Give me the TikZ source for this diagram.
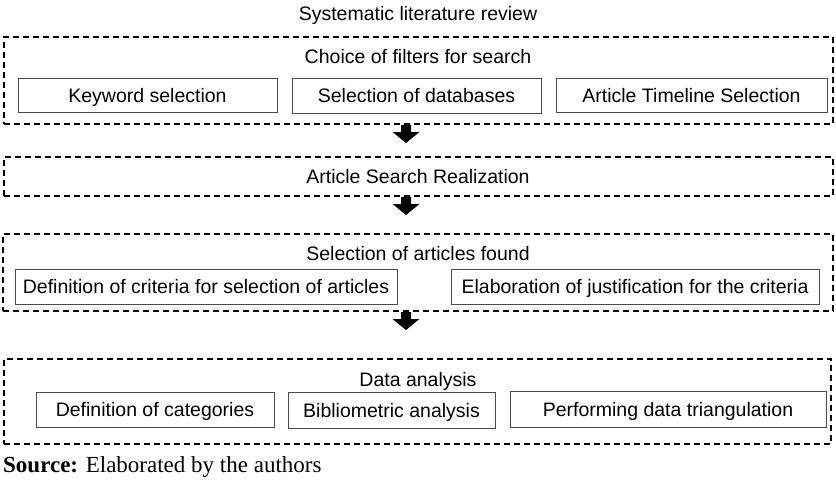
\documentclass[tikz,border=0pt]{standalone}
\usepackage{fontspec}
\setmainfont{Liberation Sans}
\newfontfamily\serifsrc{Liberation Serif}
\begin{document}
\begin{tikzpicture}[x=1pt,y=-1pt,
  dbox/.style={draw=black, line width=1.3pt, dash pattern=on 6pt off 4pt, inner sep=0pt},
  ibox/.style={draw=black!70, line width=1pt, inner sep=0pt, font=\fontsize{19.5}{22}\selectfont, text height=14pt, text depth=0pt},
  lbl/.style={inner sep=0pt, font=\fontsize{19.5}{22}\selectfont, text height=14pt, text depth=0pt},
  downarr/.pic={\fill[black] (-5,0) -- (5,0) -- (5,7) -- (13.5,7) -- (0,18) -- (-13.5,7) -- (-5,7) -- cycle;}
]
\useasboundingbox (0,0) rectangle (836,488);
% title
\node[lbl] (title) at (418,13) {Systematic literature review};
% box 1
\node[dbox, minimum width=829pt, minimum height=87pt] (b1) at (418.5,80.5) {};
\node[lbl] (t1) at (418,56) {Choice of filters for search};
\node[ibox, minimum width=259pt, minimum height=34pt] (k1) at (147.5,95) {Keyword selection};
\node[ibox, minimum width=249pt, minimum height=35pt] (k2) at (416.5,95.5) {Selection of databases};
\node[ibox, minimum width=271pt, minimum height=34pt] (k3) at (691.5,95) {Article Timeline Selection};
% box 2
\node[dbox, minimum width=829pt, minimum height=39pt] (b2) at (418.5,176.5) {};
\node[lbl] (t2) at (418,176.5) {Article Search Realization};
% box 3
\node[dbox, minimum width=830pt, minimum height=77pt] (b3) at (418,272.5) {};
\node[lbl] (t3) at (418,253) {Selection of articles found};
\node[ibox, minimum width=382pt, minimum height=35pt] (s1) at (206,286.5) {Definition of criteria for selection of articles};
\node[ibox, minimum width=368pt, minimum height=35pt] (s2) at (635,286.5) {Elaboration of justification for the criteria};
% box 4
\node[dbox, minimum width=827pt, minimum height=85pt] (b4) at (417.5,401.5) {};
\node[lbl] (t4) at (418,379) {Data analysis};
\node[ibox, minimum width=238pt, minimum height=35pt] (d1) at (155,409.5) {Definition of categories};
\node[ibox, minimum width=207pt, minimum height=36pt] (d2) at (391.5,410) {Bibliometric analysis};
\node[ibox, minimum width=316pt, minimum height=36pt] (d3) at (668,409) {Performing data triangulation};
% arrows
\coordinate (a1) at (406,125);
\coordinate (a2) at (406,197);
\coordinate (a3) at (406,312);
\pic at (a1) {downarr};
\pic at (a2) {downarr};
\pic at (a3) {downarr};
% source
\node[inner sep=0pt, anchor=base west, font=\serifsrc\fontsize{23}{26}\selectfont] (src) at (3,472) {\textbf{Source:} Elaborated by the authors};
\end{tikzpicture}
\end{document}
